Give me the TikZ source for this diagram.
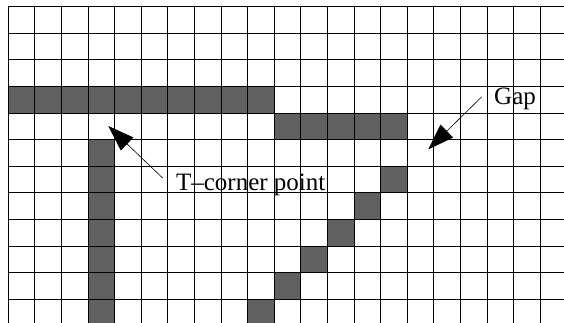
\documentclass[tikz,border=0pt]{standalone}
\usepackage{fontspec}
\setmainfont{Liberation Serif}
\usetikzlibrary{arrows.meta}
\definecolor{cellgray}{HTML}{606060}

\begin{document}
\begin{tikzpicture}[
	x=26.6pt, y=26.6pt,
	cell/.style={fill=cellgray},
	gridline/.style={line width=0.9pt, black},
	tag/.style={font=\fontsize{25}{30}\selectfont, inner sep=0pt, anchor=base west},
	pointer/.style={-{Triangle[length=26pt, width=18pt]}, line width=0.6pt}
]
	\useasboundingbox (-0.312,0.252) rectangle (20.89,-11.853);
	\clip (-0.312,0.252) rectangle (20.89,-11.853);

	% filled cells
	\foreach \c in {0,...,9} \fill[cell] (\c,-3) rectangle ++(1,-1);
	\foreach \c in {10,...,14} \fill[cell] (\c,-4) rectangle ++(1,-1);
	\foreach \r in {5,...,11} \fill[cell] (3,-\r) rectangle ++(1,-1);
	\foreach \c/\r in {14/6,13/7,12/8,11/9,10/10,9/11} \fill[cell] (\c,-\r) rectangle ++(1,-1);

	\draw[gridline, step=1] (0,0) grid (21,-12);

	\node[tag] (tlabel) at (6.30,-6.917) {T\textendash corner point};
	\node[tag] (gaplabel) at (18.26,-3.695) {Gap};

	\coordinate (tcorner) at (3.759,-4.485);
	\coordinate (gap) at (15.789,-5.361);

	\draw[pointer] ([shift={(-0.5,-0.15)}]tlabel.north west) -- (tcorner);
	\draw[pointer] ([shift={(-0.46,0.1)}]gaplabel.west) -- (gap);
\end{tikzpicture}
\end{document}
